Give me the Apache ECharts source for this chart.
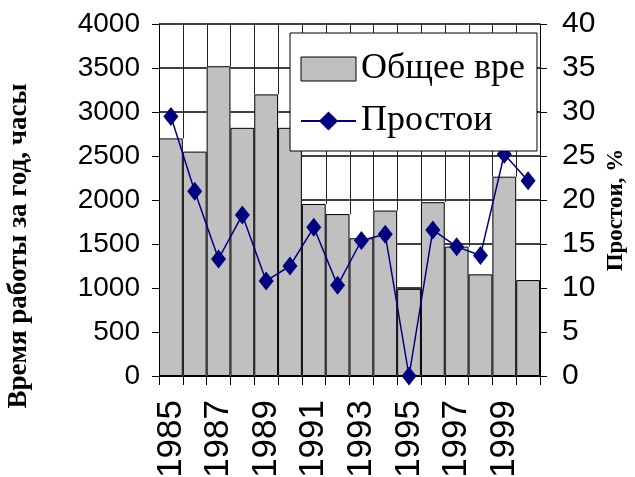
<!DOCTYPE html>
<html><head><meta charset="utf-8">
<script src="https://cdn.jsdelivr.net/npm/echarts@6/dist/echarts.min.js"></script>
<style>html,body{margin:0;padding:0;background:#fff;}#c{width:635px;height:477px;background:#fff;}</style>
</head><body><div id="c"></div>
<script>
var years = ['1985','1986','1987','1988','1989','1990','1991','1992','1993','1994','1995','1996','1997','1998','1999','2000'];
var hours = [2700,2550,3520,2820,3200,2820,1955,1840,1565,1880,990,1975,1470,1155,2265,1090];
var downtime = [29.5,21.0,13.3,18.3,10.8,12.5,16.9,10.3,15.4,16.1,0,16.6,14.7,13.7,25.2,22.2];
var leftTicks = [0,4000,500];
var rightTicks = [0,40,5];
var gridValues = [500,1000,1500,2000,2500,3000,3500,4000];
var seriesNames = ['Общее время работы','Простои'];
var leftTitle = 'Время работы за год, часы';
var rightTitle = 'Простои, %';

var chart = echarts.init(document.getElementById('c'));
var sans = 'Liberation Sans, Arial, sans-serif';
var serif = 'Liberation Serif, Times New Roman, serif';
chart.setOption({
  animation: false,
  grid: {left: 159, right: 95, top: 24, bottom: 101, containLabel: false, outerBoundsMode: 'none'},
  legend: {
    left: 290, top: 33, z: 30,
    orient: 'vertical',
    backgroundColor: '#fff',
    borderColor: '#000', borderWidth: 1,
    padding: [18, 12, 12, 10],
    itemWidth: 55, itemHeight: 24, itemGap: 16,
    textStyle: {fontFamily: serif, fontSize: 36, color: '#000', width: 264, overflow: 'truncate', ellipsis: ''},
    data: [
      {name: seriesNames[0], icon: 'rect', itemStyle: {color: '#c0c0c0', borderColor: '#000', borderWidth: 1}},
      {name: seriesNames[1]}
    ]
  },
  xAxis: {
    type: 'category', data: years,
    axisLine: {lineStyle: {color: '#000', width: 1}},
    axisTick: {show: true, interval: 0, length: 9, lineStyle: {color: '#000'}},
    axisLabel: {interval: 1, rotate: 90, margin: 24, fontFamily: sans, fontSize: 35, color: '#000'},
    splitLine: {show: false}
  },
  yAxis: [{
    type: 'value', min: leftTicks[0], max: leftTicks[1], interval: leftTicks[2],
    axisLine: {show: true, lineStyle: {color: '#000'}},
    axisTick: {show: true, length: 7, lineStyle: {color: '#000'}},
    axisLabel: {margin: 19, fontFamily: sans, fontSize: 28, color: '#000', formatter: function (v) { return String(v); }},
    splitLine: {show: false}
  }, {
    type: 'value', min: rightTicks[0], max: rightTicks[1], interval: rightTicks[2], position: 'right',
    axisLine: {show: true, lineStyle: {color: '#000'}},
    axisTick: {show: true, length: 7, lineStyle: {color: '#000'}},
    axisLabel: {margin: 22, fontFamily: sans, fontSize: 30, color: '#000'},
    splitLine: {show: false}
  }],
  graphic: [
    {type: 'text', x: 19, y: 246, rotation: Math.PI/2,
     style: {text: leftTitle, fontFamily: serif, fontWeight: 'bold', fontSize: 27, fill: '#000', align: 'center', verticalAlign: 'middle'}},
    {type: 'text', x: 616, y: 210, rotation: Math.PI/2,
     style: {text: rightTitle, fontFamily: serif, fontWeight: 'bold', fontSize: 23, fill: '#000', align: 'center', verticalAlign: 'middle'}}
  ],
  series: [{
    // horizontal gridlines, drawn only where no bar covers them
    type: 'custom', z: 10, silent: true, yAxisIndex: 0,
    data: gridValues.map(function (v) { return [0, v]; }),
    renderItem: function (params, api) {
      var v = api.value(1);
      var y = Math.round(api.coord([0, v])[1]);
      var half = api.size([1, 0])[0] / 2;
      var kids = [];
      for (var i = 0; i < hours.length; i++) {
        if (hours[i] < v) {
          var cx = api.coord([i, v])[0];
          kids.push({type: 'line', shape: {x1: cx - half, y1: y, x2: cx + half, y2: y},
                     style: {stroke: '#000000', lineWidth: 1.5}});
        }
      }
      return {type: 'group', children: kids};
    }
  }, {
    // vertical gridlines at category boundaries, above the taller neighbouring bar
    type: 'custom', z: 10, silent: true, yAxisIndex: 0,
    data: years.map(function (y, i) { return [i, 0]; }),
    renderItem: function (params, api) {
      var i = api.value(0);
      if (i === 0) return {type: 'group', children: []};
      var half = api.size([1, 0])[0] / 2;
      var x = Math.round(api.coord([i, 0])[0] - half) + 0.5;
      var base = Math.max(hours[i - 1], hours[i]);
      var yb = api.coord([i, base])[1];
      var yt = api.coord([i, leftTicks[1]])[1];
      return {type: 'line', shape: {x1: x, y1: yt, x2: x, y2: yb},
              style: {stroke: '#222222', lineWidth: 1}};
    }
  }, {
    name: seriesNames[0], type: 'bar', data: hours, yAxisIndex: 0, z: 2,
    barCategoryGap: '0%',
    itemStyle: {color: '#c0c0c0', borderColor: '#000', borderWidth: 1}
  }, {
    name: seriesNames[1], type: 'line', data: downtime, yAxisIndex: 1, z: 20,
    symbol: 'diamond', symbolSize: [15, 19], showAllSymbol: true,
    lineStyle: {color: '#000080', width: 1.5},
    itemStyle: {color: '#000080'}
  }]
});
</script></body></html>
